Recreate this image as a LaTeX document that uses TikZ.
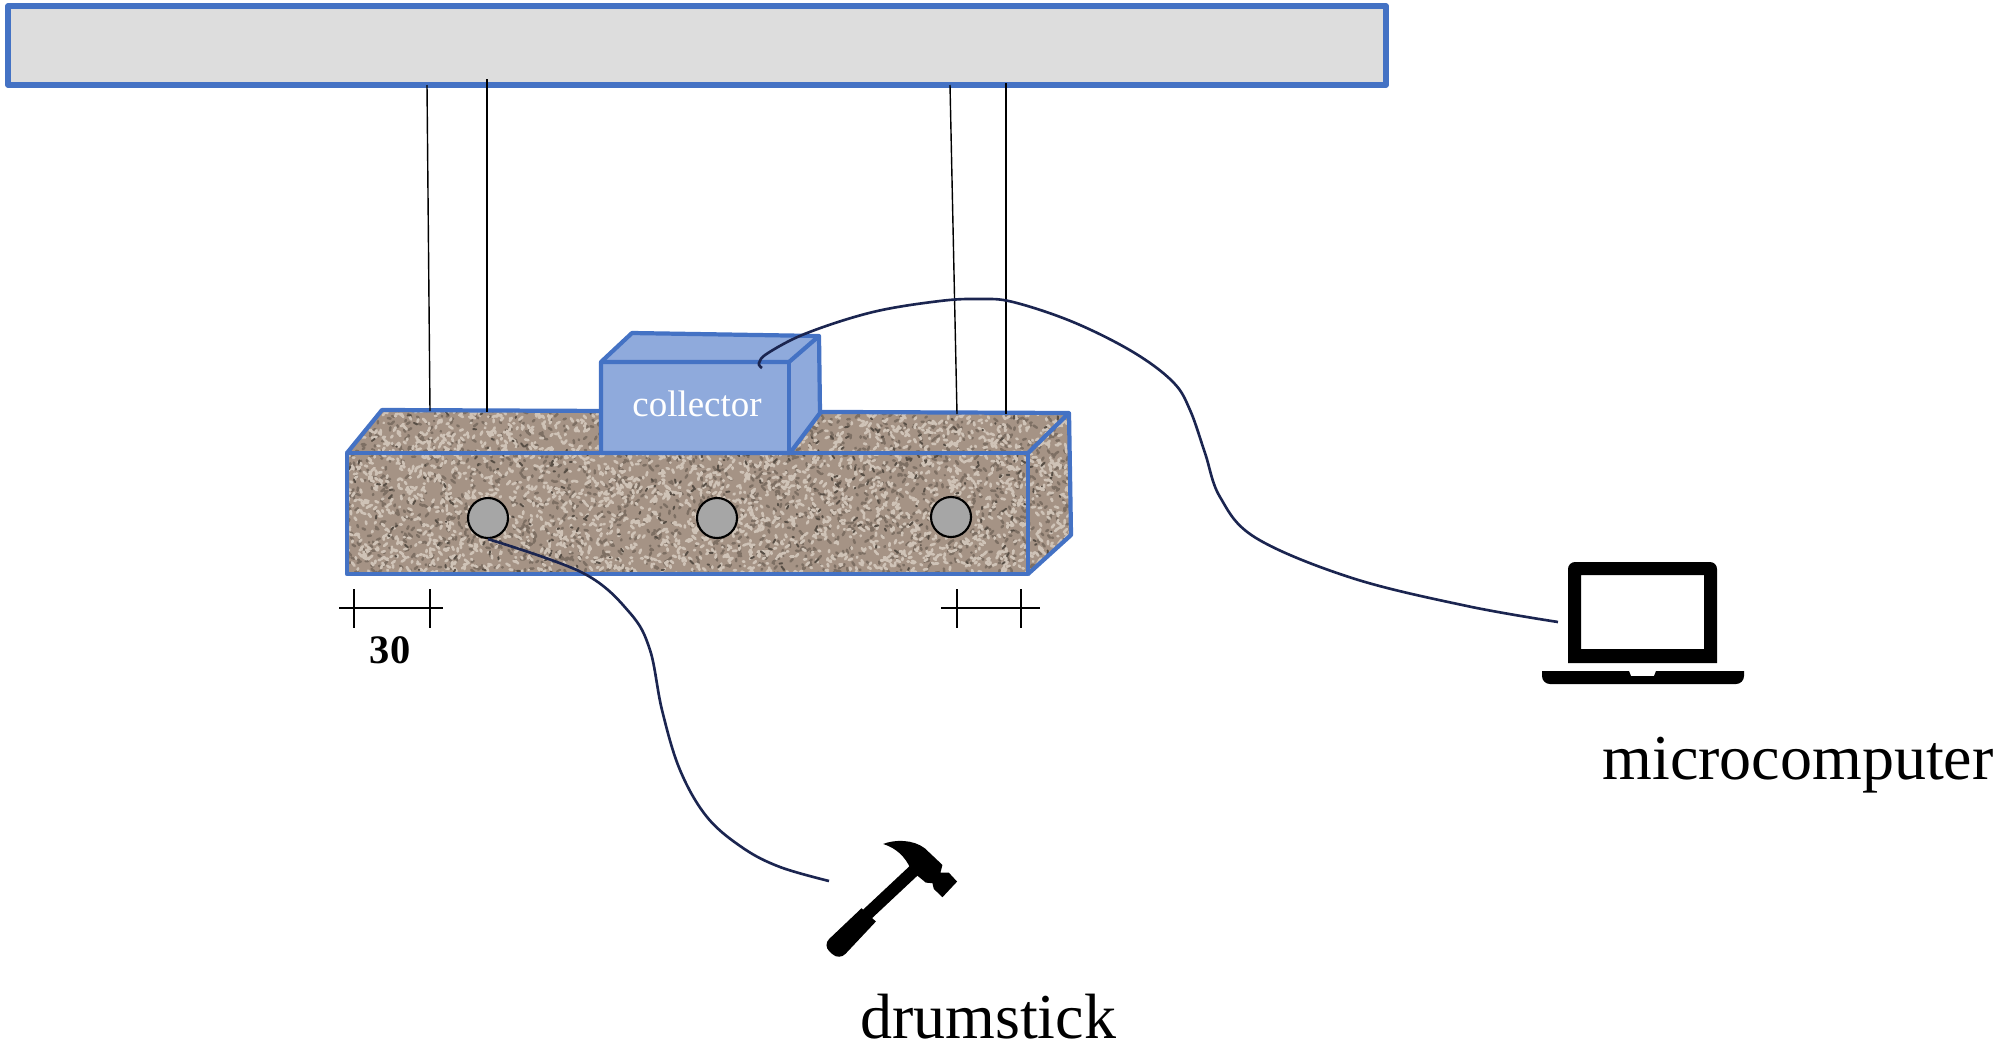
\documentclass[tikz,border=0pt]{standalone}
\usepackage{fontspec}
\setmainfont{Liberation Serif}
\usetikzlibrary{
  shapes.geometric,
  calc
}
\definecolor{edgeBlue}{HTML}{4472C4}
\definecolor{boxBlue}{HTML}{8FAADC}
\definecolor{beamGray}{HTML}{DDDDDD}
\definecolor{holeGray}{HTML}{A6A6A6}
\definecolor{cableNavy}{HTML}{1B2550}
\definecolor{stoneBase}{HTML}{A59385}
\definecolor{stoneLight}{HTML}{CFC3B7}
\definecolor{stoneDark}{HTML}{7D6F63}
\tikzset{
  outline/.style={draw=edgeBlue, line width=1.2pt, line join=round},
  wire/.style={draw=black, line width=0.4pt},
  cable/.style={draw=cableNavy, line width=0.75pt},
  hole/.style={ellipse, draw=black, line width=0.6pt, fill=holeGray, minimum width=0.40cm, minimum height=0.40cm, inner sep=0pt},
  label/.style={font=\fontsize{18.2}{20}\selectfont, anchor=base}
}
\newcommand{\speckle}[3]{%
  \draw[#1, line width=#3, line cap=round]
    \foreach \i in {1,...,#2}{ (345+728*rnd, 408+169*rnd) -- ++(7*rnd-3.5, 7*rnd-3.5) };
}
\begin{document}
\begin{tikzpicture}[x=0.01cm, y=-0.01cm]
  \useasboundingbox (0,0) rectangle (2000,1051);
  \pgfmathsetseed{4711}
  % beam
  \draw[outline, line width=1.5pt, fill=beamGray] (8,6) rectangle (1386,85);
  % stone block
  \begin{scope}
    \clip (347,453) -- (382,410) -- (1069,413) -- (1071,535) -- (1028,574) -- (347,574) -- cycle;
    \fill[stoneBase] (340,400) rectangle (1080,580);
    \speckle{stoneDark}{1900}{0.7pt}
    \speckle{stoneLight}{2900}{0.75pt}
    \speckle{stoneDark!70!black}{300}{0.55pt}
  \end{scope}
  \draw[outline] (347,453) rectangle (1028,574);
  \draw[outline] (347,453) -- (382,410) -- (1069,413) -- (1028,453);
  \draw[outline] (1069,413) -- (1071,535) -- (1028,574);
  % hanging wires
  \coordinate (beamA) at (427,85);
  \coordinate (beamB) at (487,79);
  \coordinate (beamC) at (950,85);
  \coordinate (beamD) at (1006,83);
  \coordinate (blockA) at (430,411);
  \coordinate (blockB) at (487,412);
  \coordinate (blockC) at (957,414);
  \coordinate (blockD) at (1006,414);
  \foreach \i in {A,B,C,D}
    \draw[wire] (beam\i) -- (block\i);
  % collector
  \draw[outline, fill=boxBlue] (601,362) -- (632,333) -- (819,336) -- (820,413) -- (790,453) -- (601,453) -- cycle;
  \draw[outline] (601,362) -- (789,362) -- (819,336);
  \draw[outline] (789,362) -- (789,453);
  \node[font=\fontsize{10.5}{12}\selectfont, text=white, inner sep=0pt] (collector) at (697,404) {collector};
  % holes
  \node[hole] (holeA) at (488,518) {};
  \node[hole] (holeB) at (717,518) {};
  \node[hole] (holeC) at (951,517) {};
  % dimension marks
  \draw[wire] (339,608) -- (443,608);
  \draw[wire] (354,589) -- (354,628);
  \draw[wire] (430,589) -- (430,628);
  \draw[wire] (941,608) -- (1040,608);
  \draw[wire] (957,589) -- (957,628);
  \draw[wire] (1021,589) -- (1021,628);
  \node[font=\fontsize{11.5}{13}\selectfont\bfseries, inner sep=0pt] (dimA) at (390,650) {30};
  % laptop
  \fill[even odd rule] (1568,663) [rounded corners=0.07cm] -- (1568,562) -- (1717,562) [sharp corners] -- (1717,663) -- cycle
    (1581,575) rectangle (1704,649);
  \fill (1542,671) -- (1629,671) -- (1631,676) -- (1654,676) -- (1656,671) -- (1744,671) [rounded corners=0.08cm] -- (1744,684) -- (1542,684) [sharp corners] -- cycle;
  \coordinate (laptopPort) at (1558,622);
  % hammer
  \begin{scope}[shift={(800,820)}, x=0.00333cm, y=-0.00333cm]
    \fill (250,72) .. controls (285,58) and (340,58) .. (375,85) -- (428,135) -- (422,158) -- (447,158) -- (472,185) -- (428,232) -- (402,207) -- (398,190) -- (378,188) -- (350,165) -- (330,142) .. controls (315,110) and (290,85) .. (250,72) -- cycle;
    \draw[line width=3.5pt] (342,152) -- (200,285);
    \fill (185,265) -- (228,305) [rounded corners=0.09cm] -- (118,422) -- (68,376) [sharp corners] -- cycle;
  \end{scope}
  \coordinate (hammerEnd) at (829,881);
  % cables
  \draw[cable] plot[smooth, tension=0.6] coordinates {(762,368) (759,363) (768,353) (807,333) (873,312) (940,301) (980,299) (1013,302) (1073,322) (1133,352) (1173,382) (1190,410) (1205,453) (1220,497) (1256,538) (1352,578) (1467,606) (laptopPort)};
  \draw[cable] plot[smooth, tension=0.6] coordinates {(holeA.south) (583,573) (630,613) (650,650) (662,710) (680,770) (707,817) (743,848) (780,867) (hammerEnd)};
  % labels
  \node[label] (laptopLabel) at (1798,779) {microcomputer};
  \node[label] (hammerLabel) at (988,1038) {drumstick};
\end{tikzpicture}
\end{document}
